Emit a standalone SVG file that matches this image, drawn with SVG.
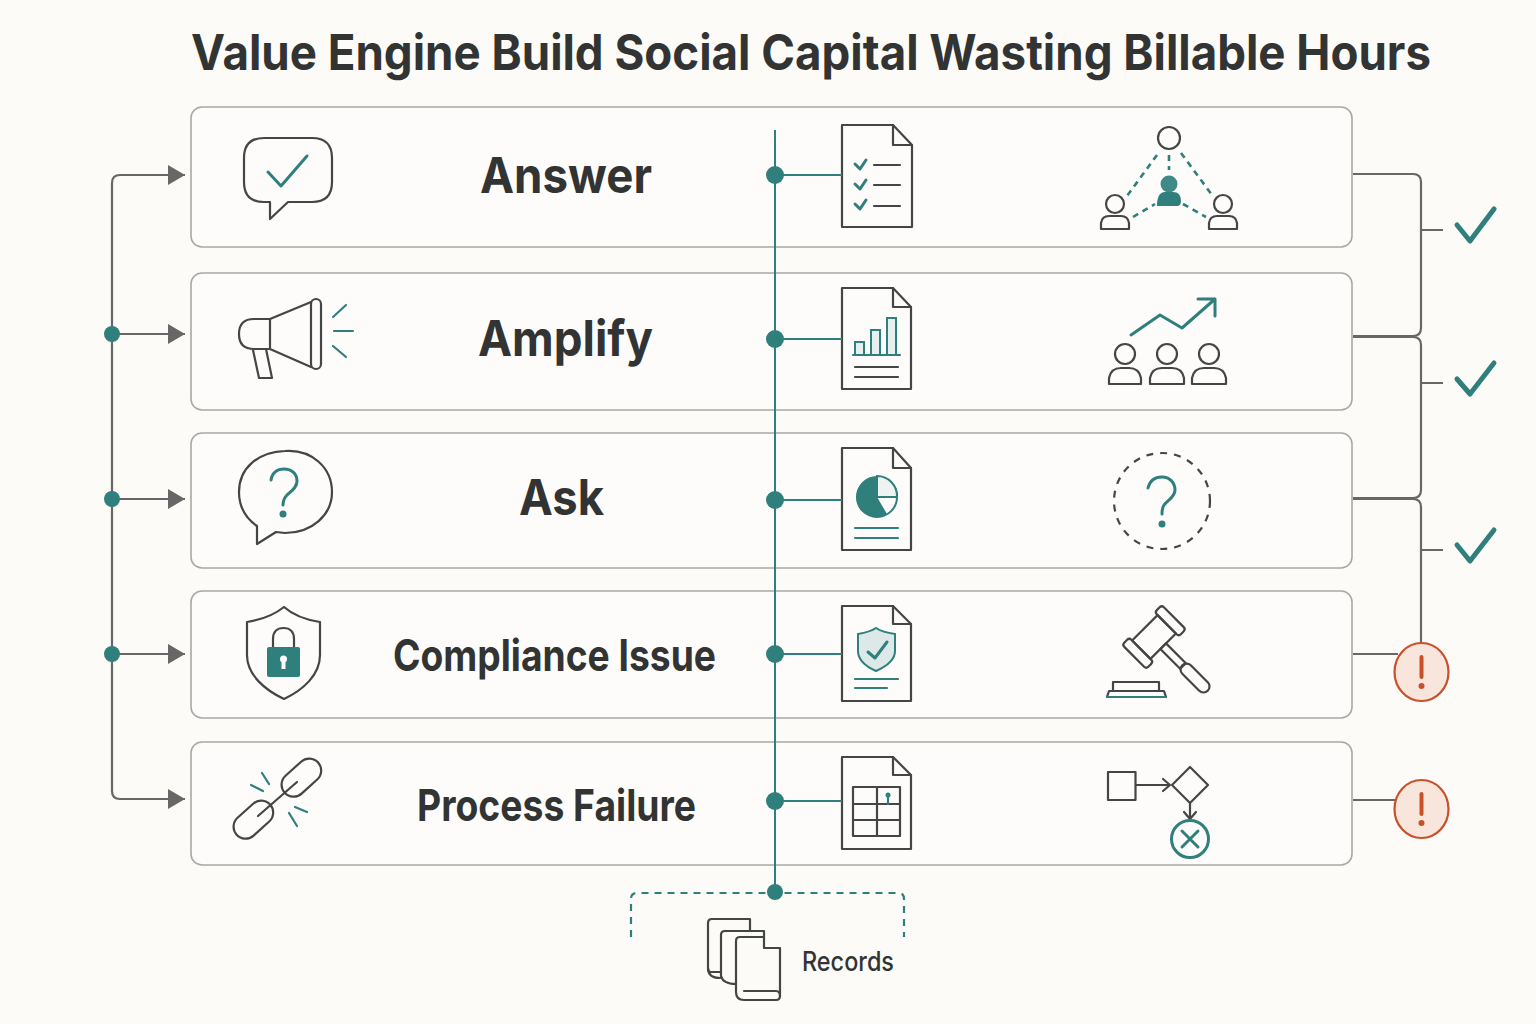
<svg xmlns="http://www.w3.org/2000/svg" width="1536" height="1024" viewBox="0 0 1536 1024">
<style>
text{font-family:"Inter","Liberation Sans",sans-serif;fill:#323433}
.t{font-weight:700;font-size:49px}
.l{font-weight:700;font-size:50px}
.l2{font-weight:700;font-size:44px}
.box{fill:#fdfcfa;stroke:#a9a8a4;stroke-width:1.6}
.d{fill:none;stroke:#444545;stroke-width:2.2;stroke-linecap:round;stroke-linejoin:round}
.s{fill:none;stroke:#2f7f7c;stroke-width:2.2;stroke-linecap:round;stroke-linejoin:round}
.s3{fill:none;stroke:#2f7f7c;stroke-width:3;stroke-linecap:round;stroke-linejoin:round}
.w{fill:#fdfcfa;stroke:#444545;stroke-width:2.2;stroke-linejoin:round}
.f{fill:#2f7f7c}
.g{fill:none;stroke:#666766;stroke-width:2.2}
.tl{fill:none;stroke:#2f7f7c;stroke-width:2}
.ck{fill:none;stroke:#2f7f7c;stroke-width:5;stroke-linecap:round;stroke-linejoin:round}
.al{fill:#f8e6dc;stroke:#c8502a;stroke-width:2.2}
.ex{stroke:#c8502a;stroke-width:4;stroke-linecap:round}
.dash{fill:none;stroke:#2f7f7c;stroke-width:2.2;stroke-dasharray:7 6}
.dn{fill:none;stroke:#2f7f7c;stroke-width:2.6;stroke-dasharray:6 5}
</style>
<defs>
<marker id="arr" markerUnits="userSpaceOnUse" markerWidth="18" markerHeight="22" refX="17" refY="10" orient="auto"><path d="M0,0L17,10L0,20Z" fill="#666766"/></marker>
</defs>
<rect width="1536" height="1024" fill="#fdfbf7"/>
<text id="title" class="t" x="191" y="70" textLength="1240" lengthAdjust="spacingAndGlyphs">Value Engine Build Social Capital Wasting Billable Hours</text>

<g id="node-answer">
<rect class="box" x="191" y="107" width="1161" height="140" rx="11"/>
<path class="d" d="M264,138H312Q332,138 332,158V182Q332,202 312,202H288L270,219V202H264Q244,202 244,182V158Q244,138 264,138Z"/>
<path class="s3" d="M268,172L281,186L307,156"/>
<text class="l" x="480" y="193" textLength="172" lengthAdjust="spacingAndGlyphs">Answer</text>
<path class="w" d="M842,125H893L912,145V227H842Z"/><path class="d" d="M893,125V145H912"/>
<path class="s3" d="M855,164L860,169L866,160M855,184L860,189L866,180M855,204L860,209L866,200"/>
<path class="d" d="M874,165H900M874,185H900M874,206H900"/>
<circle class="d" cx="1169" cy="138" r="11"/>
<path class="dn" d="M1157,155L1127,196M1169,155V170M1181,153L1212,195M1133,217L1155,204M1183,204L1206,217"/>
<circle cx="1169" cy="184" r="8.500" fill="#3f8a87"/><path class="f" d="M1157,206Q1157,192 1165,192H1173Q1181,192 1181,201Q1181,206 1177,206Z"/>
<circle class="d" cx="1115" cy="204" r="9"/><path class="d" d="M1101,229V223Q1102,216 1109,216H1121Q1128,216 1129,223V229Z"/>
<circle class="d" cx="1223" cy="204" r="9"/><path class="d" d="M1209,229V223Q1210,216 1217,216H1229Q1236,216 1237,223V229Z"/>
</g>

<g id="node-amplify">
<rect class="box" x="191" y="273" width="1161" height="137" rx="11"/>
<path class="d" d="M270,319H254Q239,319 239,334Q239,349 254,349H270ZM270,319L311,302M270,349L311,367M253,350L259,378H272L266,349"/>
<rect class="d" x="311" y="299" width="10" height="70" rx="5"/>
<path class="s" d="M333,317L346,305M334,331H353M333,346L346,357"/>
<text class="l" x="478" y="356" textLength="175" lengthAdjust="spacingAndGlyphs">Amplify</text>
<path class="w" d="M842,288H893L911,307V389H842Z"/><path class="d" d="M893,288V307H911"/>
<path fill="#e6f0ef" stroke="#2f7f7c" stroke-width="2" d="M855,342H864V355H855ZM871,330H880V355H871ZM887,318H896V355H887Z"/>
<path class="s" d="M853,355H900"/><path class="d" d="M855,367H898M855,377H898"/>
<path class="s3" d="M1131,335L1160,315L1182,328L1215,299M1198,299H1215V316"/>
<g class="d"><circle cx="1125" cy="354" r="10"/><circle cx="1167" cy="354" r="10"/><circle cx="1209" cy="354" r="10"/>
<path d="M1109,384V378Q1111,368 1121,368H1129Q1139,368 1141,378V384ZM1150,384V378Q1152,368 1162,368H1172Q1182,368 1184,378V384ZM1192,384V378Q1194,368 1204,368H1214Q1224,368 1226,378V384Z"/></g>
</g>

<g id="node-ask">
<rect class="box" x="191" y="433" width="1161" height="135" rx="11"/>
<path class="d" d="M257,526C244,517 239,505 239,492C239,468 258,452 285,451C312,449 332,468 332,492C332,515 312,533 285,533L276,532L257,544Z"/>
<path class="s3" d="M271,480C272,473 277,469 284,469C292,469 297,474 297,481C297,488 291,491 287,495C284,498 283,501 283,505"/><circle class="f" cx="283" cy="514" r="3.500"/>
<text class="l" x="519" y="515" textLength="85" lengthAdjust="spacingAndGlyphs">Ask</text>
<path class="w" d="M842,448H893L911,468V550H842Z"/><path class="d" d="M893,448V468H911"/>
<circle cx="877" cy="497" r="20" fill="#fdfcfa" stroke="#2f7f7c" stroke-width="2"/>
<path fill="#eef3f2" stroke="#2f7f7c" stroke-width="2" d="M877,497V476A20,20 0 0 1 897,497Z"/>
<path class="f" d="M877,497V477A20,20 0 1 0 887,514Z"/>
<path class="s" d="M855,528H898M855,538H898"/>
<circle cx="1162" cy="501" r="48" fill="none" stroke="#444545" stroke-width="2.200" stroke-dasharray="7 7"/>
<path class="s3" d="M1148,488C1150,480 1156,477 1162,477C1170,477 1175,483 1175,490C1175,497 1168,500 1164,505C1162,508 1162,510 1162,514"/><circle class="f" cx="1162" cy="524" r="3.500"/>
</g>

<g id="node-compliance">
<rect class="box" x="191" y="591" width="1161" height="127" rx="11"/>
<path class="d" d="M284,607C274,615 260,620 247,622V655C247,675 265,690 284,699C303,690 320,675 320,655V622C307,620 293,615 284,607Z"/>
<path class="d" d="M273,647V639C273,632 277,628 283.500,628C290,628 294,632 294,639V647"/>
<rect class="f" x="267" y="647" width="33" height="30" rx="2"/>
<circle cx="283.500" cy="659" r="3.500" fill="#fdfcfa"/><rect x="281.500" y="660" width="4" height="9" fill="#fdfcfa"/>
<text class="l2" x="393" y="671" textLength="323" lengthAdjust="spacingAndGlyphs">Compliance Issue</text>
<path class="w" d="M842,606H893L911,624V701H842Z"/><path class="d" d="M893,606V624H911"/>
<path fill="#dce9e8" stroke="#2f7f7c" stroke-width="2" d="M876,628C870,632 864,633 858,634V651C858,660 867,667 876,671C885,667 895,660 895,651V634C888,633 882,632 876,628Z"/>
<path class="s3" d="M868,652L875,658L887,642"/>
<path class="s" d="M855,679H898M855,688H887"/>
<g transform="translate(1154,637) rotate(45)">
<rect class="d" x="-13" y="-18" width="26" height="36"/>
<rect class="d" x="-17" y="-28" width="34" height="10" rx="3"/>
<rect class="d" x="-17" y="18" width="34" height="10" rx="3"/>
<rect class="d" x="13" y="-4" width="28" height="8"/>
<rect class="d" x="40" y="-6" width="36" height="12" rx="6"/>
</g>
<path class="d" d="M1113,691V682H1159V691"/>
<path class="d" d="M1107,697L1109,691H1164L1166,697"/><path class="s" d="M1107,697H1166"/>
</g>

<g id="node-process">
<rect class="box" x="191" y="742" width="1161" height="123" rx="11"/>
<rect class="d" x="-22" y="-12" width="45" height="24" rx="12" transform="translate(301,778) rotate(-42)"/>
<rect class="d" x="-22" y="-12" width="45" height="24" rx="12" transform="translate(253,820) rotate(-42)"/>
<path class="d" d="M258,816L297,782"/>
<path class="s" d="M262,773L269,784M251,785L263,791M295,807L307,812M289,813L297,826"/>
<text class="l2" x="417" y="821" textLength="279" lengthAdjust="spacingAndGlyphs">Process Failure</text>
<path class="w" d="M842,757H893L911,775V849H842Z"/><path class="d" d="M893,757V775H911"/>
<path class="d" d="M853,787H900V836H853ZM877,787V836M853,804H900M853,820H900"/>
<path class="s" d="M888,794V804"/><circle class="f" cx="888" cy="795" r="2.500"/>
<rect class="d" x="1108" y="772" width="27.500" height="28"/>
<path class="d" d="M1136,785H1169M1163,779L1170,785L1163,791"/>
<path class="d" d="M1190,767L1208,785L1190,803L1172,785Z"/>
<path class="d" d="M1190,803V819M1184,812L1190,819L1196,812"/>
<circle class="s3" cx="1190" cy="839" r="18.500"/><path class="s3" d="M1182,831L1198,847M1198,831L1182,847"/>
</g>

<g id="connectors">
<path class="g" d="M185,175H120Q112,175 112,183V791Q112,799 120,799H185"/>
<path class="g" d="M120,175H185" marker-end="url(#arr)"/>
<path class="g" d="M112,334H185" marker-end="url(#arr)"/>
<path class="g" d="M112,499H185" marker-end="url(#arr)"/>
<path class="g" d="M112,654H185" marker-end="url(#arr)"/>
<path class="g" d="M120,799H185" marker-end="url(#arr)"/>
<circle class="f" cx="112" cy="334" r="8"/><circle class="f" cx="112" cy="499" r="8"/><circle class="f" cx="112" cy="654" r="8"/>
<path class="tl" d="M775,130V892M775,175H842M775,339H842M775,500H842M775,654H842M775,801H842"/>
<circle class="f" cx="775" cy="175" r="9"/><circle class="f" cx="775" cy="339" r="9"/><circle class="f" cx="775" cy="500" r="9"/><circle class="f" cx="775" cy="654" r="9"/><circle class="f" cx="775" cy="801" r="9"/>
<path class="g" d="M1353,174H1413Q1421,174 1421,182V328Q1421,336 1413,336H1353M1421,230H1443"/>
<path class="g" d="M1353,337H1413Q1421,337 1421,345V490Q1421,498 1413,498H1353M1421,383H1443"/>
<path class="g" d="M1353,499H1413Q1421,499 1421,507V645M1421,550H1443"/>
<path class="g" d="M1353,654H1398M1353,800H1396"/>
</g>

<g id="outcome-1"><path class="ck" d="M1457,225L1470,241L1494,209"/></g>
<g id="outcome-2"><path class="ck" d="M1457,379L1470,394L1494,363"/></g>
<g id="outcome-3"><path class="ck" d="M1457,545L1470,561L1494,530"/></g>
<g id="outcome-4"><ellipse class="al" cx="1421.500" cy="672" rx="27" ry="29"/><path class="ex" d="M1421.500,657V677"/><circle cx="1421.500" cy="686" r="3" fill="#c8502a"/></g>
<g id="outcome-5"><ellipse class="al" cx="1421.500" cy="809" rx="27" ry="29"/><path class="ex" d="M1421.500,794V814"/><circle cx="1421.500" cy="823" r="3" fill="#c8502a"/></g>

<g id="records">
<path class="dash" d="M631,937V899Q631,893 637,893H898Q904,893 904,899V937"/>
<circle class="f" cx="775" cy="892" r="8"/>
<g class="d">
<path d="M721,972H711Q708,972 708,968V923Q708,919 712,919H750V931"/>
<path d="M736,984Q723,984 721,976V935Q721,931 725,931H764V937M708,968Q708,978 720,978"/>
<path fill="#fdfbf7" d="M736,941Q736,937 740,937H764V948H780V996Q780,1000 776,1000H744Q736,1000 736,992Z"/>
<path d="M744,991H776Q780,991 780,996"/>
</g>
<text x="802" y="971" style="font-size:27px;font-weight:500" textLength="92" lengthAdjust="spacingAndGlyphs">Records</text>
</g>
</svg>
